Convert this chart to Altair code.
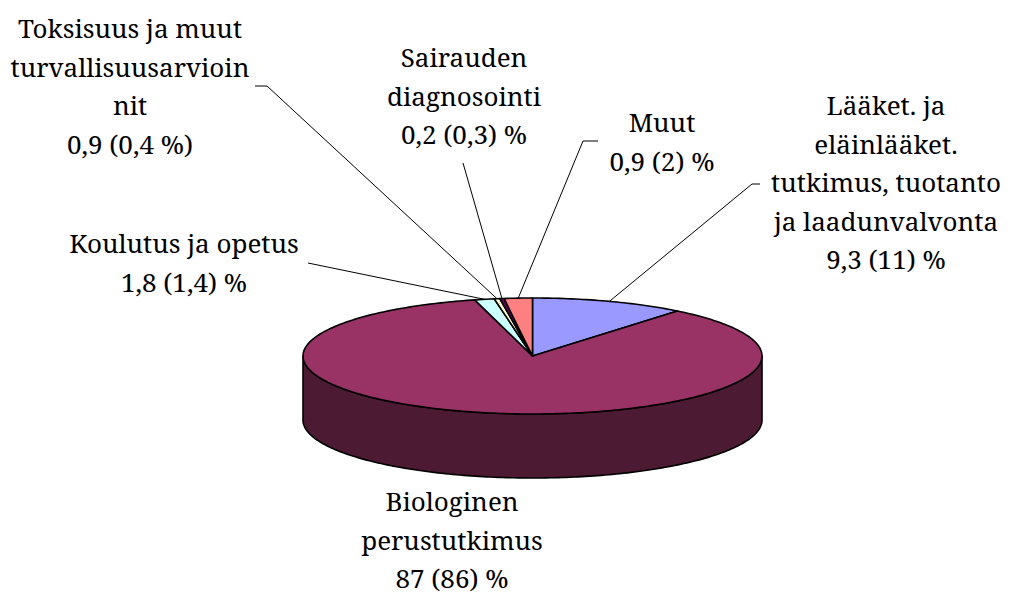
import math
import altair as alt

# ---- data ----
categories = [
    "Lääket. ja\neläinlääket.\ntutkimus, tuotanto\nja laadunvalvonta",
    "Biologinen\nperustutkimus",
    "Koulutus ja opetus",
    "Toksisuus ja muut\nturvallisuusarvioin\nnit",
    "Sairauden\ndiagnosointi",
    "Muut",
]
value_texts = ["9,3 (11) %", "87 (86) %", "1,8 (1,4) %", "0,9 (0,4 %)", "0,2 (0,3) %", "0,9 (2) %"]
pie_values = [11, 86, 1.4, 0.4, 0.3, 2]
top_colors = ["#9999FF", "#993366", "#CCFFFF", "#FFFFCC", "#660066", "#FF8080"]
side_colors = ["#4D4D80", "#4C1A33", "#668080", "#808066", "#330033", "#804040"]

# ---- layout (screen pixels) ----
CX, CY, RX, RY, DEPTH = 532.5, 356.0, 229.5, 58.0, 64.0
label_anchor = [(886, 115), (452, 511), (184, 253), (130, 38), (464, 67), (662, 132)]
leader_start = [[(760, 184), (752, 184)], None, [(308, 263)], [(255, 86), (267, 86)],
                [(463, 163)], [(598, 141), (583, 141)]]
FONT = "Noto Serif"


def pt(theta, dy=0.0):
    t = math.radians(theta)
    return [CX + RX * math.sin(t), CY - RY * math.cos(t) + dy]


def arc_pts(a, b, dy=0.0):
    n = max(2, int(abs(b - a)) + 2)
    return [pt(a + (b - a) * i / (n - 1), dy) for i in range(n)]


total = sum(pie_values)
spans = []
acc = 0.0
for v in pie_values:
    s = v / total * 360.0
    spans.append((acc, acc + s))
    acc += s

side_feats, top_feats, lead_feats, texts = [], [], [], []
for i, (a, b) in enumerate(spans):
    lo, hi = max(a, 90.0), min(b, 270.0)
    if hi > lo:
        ring = arc_pts(lo, hi) + arc_pts(hi, lo, DEPTH)
        ring.append(ring[0])
        side_feats.append({"type": "Feature", "properties": {"fill": side_colors[i]},
                           "geometry": {"type": "Polygon", "coordinates": [ring]}})
    ring = [[CX, CY]] + arc_pts(a, b) + [[CX, CY]]
    top_feats.append({"type": "Feature", "properties": {"fill": top_colors[i]},
                      "geometry": {"type": "Polygon", "coordinates": [ring]}})
    if leader_start[i]:
        line = [list(p) for p in leader_start[i]] + [pt((a + b) / 2)]
        lead_feats.append({"type": "Feature", "properties": {},
                           "geometry": {"type": "LineString", "coordinates": line}})
    texts.append({"lon": label_anchor[i][0], "lat": label_anchor[i][1],
                  "text": categories[i] + "\n" + value_texts[i]})

proj = dict(type="identity", scale=1, translate=[-8, -8])

sides = alt.Chart(alt.Data(values=side_feats)).mark_geoshape(
    stroke="black", strokeWidth=1.6, strokeJoin="round"
).encode(fill=alt.Fill("properties.fill:N", scale=None)).project(**proj)

tops = alt.Chart(alt.Data(values=top_feats)).mark_geoshape(
    stroke="black", strokeWidth=1.6, strokeJoin="round"
).encode(fill=alt.Fill("properties.fill:N", scale=None)).project(**proj)

leaders = alt.Chart(alt.Data(values=lead_feats)).mark_geoshape(
    filled=False, stroke="black", strokeWidth=1
).encode(strokeOpacity=alt.value(1)).project(**proj)

labels = alt.Chart(alt.Data(values=texts)).mark_text(
    lineBreak="\n", align="center", baseline="alphabetic",
    font=FONT, fontSize=26, lineHeight=38.5, color="black"
).encode(longitude="lon:Q", latitude="lat:Q", text="text:N").project(**proj)

chart = alt.layer(leaders, sides, tops, labels).properties(
    width=996, height=587, autosize=alt.AutoSizeParams(type="none"), padding=0,
    background="white"
).configure_view(stroke=None)

chart.save("out.html", embed_options={"renderer": "svg", "actions": False})
